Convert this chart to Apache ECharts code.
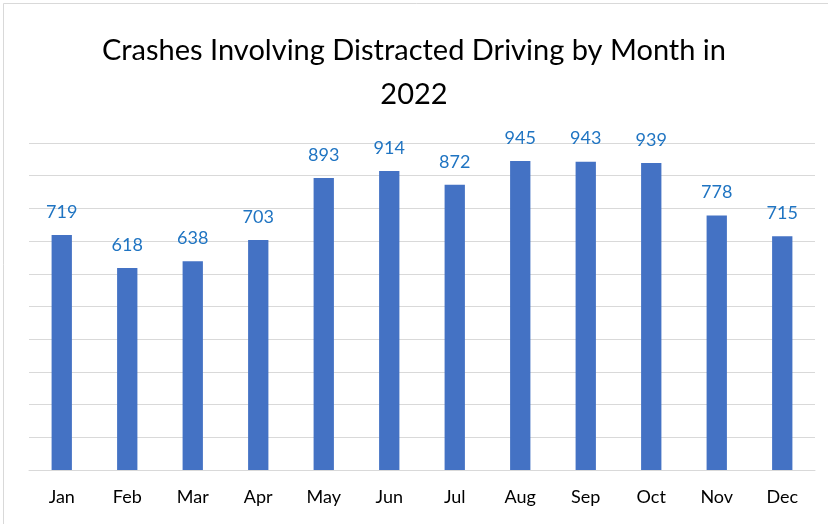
<!DOCTYPE html>
<html>
<head>
<meta charset="utf-8">
<script src="https://cdn.jsdelivr.net/npm/echarts@6/dist/echarts.min.js"></script>
<style>
  html, body { margin: 0; padding: 0; background: #fff; }
  #chart { width: 828px; height: 524px; }
</style>
</head>
<body>
<div id="chart"></div>
<script>
const months = ['Jan', 'Feb', 'Mar', 'Apr', 'May', 'Jun', 'Jul', 'Aug', 'Sep', 'Oct', 'Nov', 'Dec'];
const crashes = [719, 618, 638, 703, 893, 914, 872, 945, 943, 939, 778, 715];
const yTicks = { min: 0, max: 1000, interval: 100 };

const font = "Lato, 'Open Sans', sans-serif";

const myChart = echarts.init(document.getElementById('chart'));

const option = {
    backgroundColor: '#fff',
    animation: false,
    title: {
        text: 'Crashes Involving Distracted Driving by Month in\n2022',
        left: 'center',
        top: 24,
        textStyle: {
            color: '#000',
            fontSize: 29,
            fontWeight: 'normal',
            fontFamily: font,
            lineHeight: 44
        }
    },
    graphic: [{
        type: 'rect',
        shape: { x: 3.5, y: 3.5, width: 900, height: 900 },
        style: { fill: 'none', stroke: '#d9d9d9', lineWidth: 1 },
        silent: true
    }],
    grid: {
        left: 29,
        right: 13,
        top: 143,
        bottom: 54
    },
    xAxis: {
        type: 'category',
        data: months,
        axisTick: { show: false },
        axisLine: { lineStyle: { color: '#d9d9d9', width: 1 } },
        axisLabel: {
            color: '#000',
            fontSize: 18,
            fontFamily: font,
            margin: 18
        }
    },
    yAxis: {
        type: 'value',
        min: yTicks.min,
        max: yTicks.max,
        interval: yTicks.interval,
        axisLabel: { show: false },
        axisLine: { show: false },
        axisTick: { show: false },
        splitLine: { lineStyle: { color: '#d9d9d9', width: 1 } }
    },
    series: [{
        type: 'bar',
        data: crashes,
        barWidth: '31%',
        itemStyle: { color: '#4472C4' },
        label: {
            show: true,
            position: 'top',
            distance: 14,
            color: '#1F74C2',
            fontSize: 18,
            fontFamily: font
        }
    }]
};

myChart.setOption(option);
window.addEventListener('resize', () => myChart.resize());
</script>
</body>
</html>
